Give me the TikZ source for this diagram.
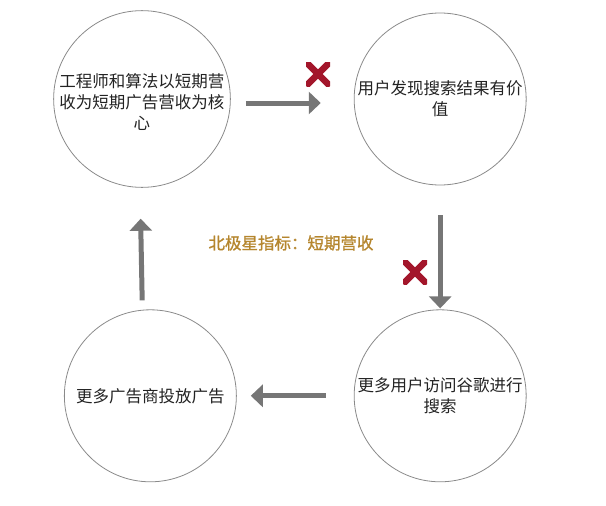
\documentclass[tikz,border=0pt]{standalone}
\usepackage{fontspec}
\setmainfont{Noto Sans CJK SC}
\usepackage{xcolor}
\usetikzlibrary{arrows.meta,positioning}
\definecolor{ringgray}{HTML}{8A8A8A}
\definecolor{arrowgray}{HTML}{767676}
\definecolor{crossred}{HTML}{A3162B}
\definecolor{goldtext}{HTML}{B5862E}
\definecolor{bodytext}{HTML}{222222}

\begin{document}
\begin{tikzpicture}[
  x=1pt,y=-1pt,
  font=\fontsize{16.5}{21}\selectfont,
  node distance=123pt and 123pt,
  bubble/.style={circle,draw=ringgray,line width=0.8pt,minimum size=172pt,inner sep=0pt,align=center,text=bodytext},
  flow/.style={-{Triangle[length=12pt,width=22pt]},line width=5pt,draw=arrowgray},
  xmark/.style={minimum size=24pt,inner sep=0pt,path picture={
    \draw[crossred,line width=6.5pt]
      (path picture bounding box.north west) -- (path picture bounding box.south east)
      (path picture bounding box.north east) -- (path picture bounding box.south west);}}
]
\useasboundingbox (0,0) rectangle (606,506);
\node[bubble] (revenue) at (142,99) {\rule{0pt}{21pt}工程师和算法以短期营\\收为短期广告营收为核\\心};
\node[bubble,right=123pt of revenue] (value) {用户发现搜索结果有价\\值};
\node[bubble,below=124pt of value] (visits) {更多用户访问谷歌进行\\搜索};
\node[bubble,left=117pt of visits] (advertisers) {更多广告商投放广告};
\node[text=goldtext,font=\fontsize{16.5}{21}\addfontfeatures{FakeBold=1.2}] (northstar) at (291,243) {北极星指标：短期营收};
\node[xmark] (cut1) at (318,74) {};
\node[xmark] (cut2) at (415,272) {};
\draw[flow,shorten <=15pt,shorten >=33pt] ([yshift=-4pt]revenue.east) -- ([yshift=-4pt]value.west);
\draw[flow,shorten <=30pt,shorten >=1pt] (value.south) -- (visits.north);
\draw[flow,shorten <=28pt,shorten >=14pt] (visits.west) -- (advertisers.east);
\draw[flow,shorten <=9pt,shorten >=31pt] ([xshift=-8pt]advertisers.north) -- ([xshift=-2pt]revenue.south);
\end{tikzpicture}
\end{document}
